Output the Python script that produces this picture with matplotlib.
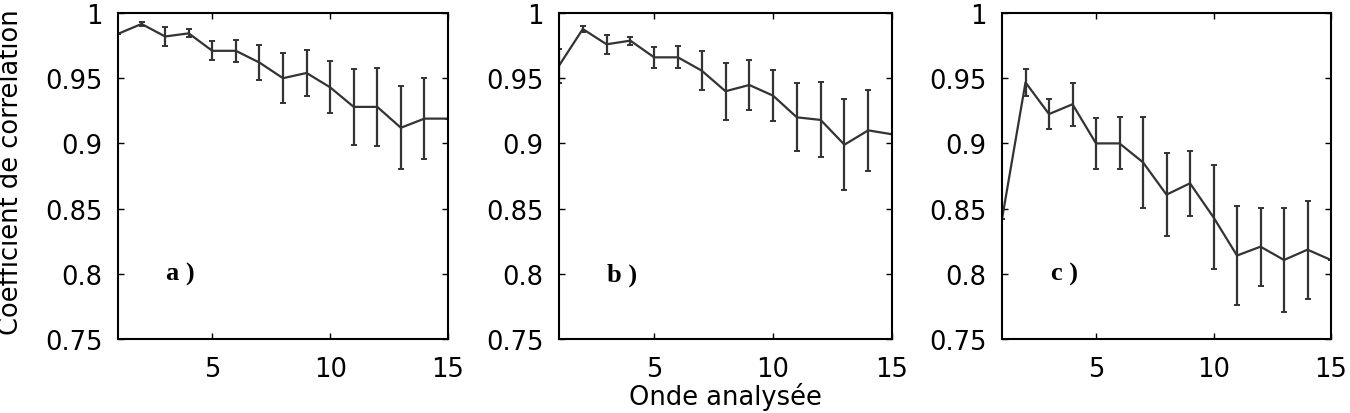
#!/usr/bin/env python3
"""Correlation coefficient vs analysed wave, three panels with error bars -> out.png"""
import matplotlib; matplotlib.use("Agg"); import matplotlib.pyplot as plt

waves = list(range(1, 16))

corr_a = [0.984, 0.9916, 0.982, 0.9844, 0.971, 0.971, 0.962, 0.950, 0.954, 0.943,
          0.928, 0.928, 0.912, 0.919, 0.919]
err_a = [0.0, 0.0015, 0.007, 0.003, 0.0073, 0.0085, 0.0134, 0.019, 0.0176, 0.020,
         0.029, 0.030, 0.032, 0.031, 0.0]

corr_b = [0.9596, 0.9877, 0.976, 0.9788, 0.966, 0.966, 0.9558, 0.940, 0.9448, 0.9366,
          0.920, 0.918, 0.899, 0.910, 0.907]
err_b = [0.013, 0.002, 0.0073, 0.003, 0.008, 0.0085, 0.015, 0.022, 0.019, 0.0195,
         0.026, 0.0288, 0.035, 0.031, 0.0]

corr_c = [0.842, 0.9468, 0.9225, 0.930, 0.900, 0.900, 0.8855, 0.8607, 0.8694, 0.8433,
          0.814, 0.8208, 0.8106, 0.8185, 0.8106]
err_c = [0.0, 0.0105, 0.0118, 0.0166, 0.0193, 0.020, 0.035, 0.032, 0.025, 0.040,
         0.0377, 0.030, 0.040, 0.0377, 0.0]

panel_labels = ["a )", "b )", "c )"]
yticks = [0.75, 0.8, 0.85, 0.9, 0.95, 1.0]
ytick_labels = ["0.75", "0.8", "0.85", "0.9", "0.95", "1"]
xticks = [5, 10, 15]

plt.rcParams["font.family"] = ["DejaVu Sans"]
LINE = "#333333"


def main():
    fig = plt.figure(figsize=(13.5, 4.14), dpi=100)
    lefts = [118 / 1350, 559 / 1350, 1002 / 1350]
    widths = [330 / 1350, 333 / 1350, 329 / 1350]
    series = [(corr_a, err_a), (corr_b, err_b), (corr_c, err_c)]
    for left, w, (vals, errs), lab in zip(lefts, widths, series, panel_labels):
        ax = fig.add_axes([left, 74 / 414, w, 326 / 414])
        ax.errorbar(waves, vals, yerr=errs, color=LINE, lw=1.6, elinewidth=1.6,
                    capsize=2.5, capthick=1.4)
        ax.set_xlim(1, 15); ax.set_ylim(0.75, 1.0)
        ax.set_xticks(xticks); ax.set_xticklabels([str(t) for t in xticks])
        ax.set_yticks(yticks); ax.set_yticklabels(ytick_labels)
        ax.tick_params(direction="in", top=True, right=True, length=4, width=1,
                       labelsize=18.5)
        ax.tick_params(axis="x", pad=12)
        ax.tick_params(axis="y", pad=11)
        for s in ax.spines.values():
            s.set_linewidth(1.5); s.set_color("black")
        ax.text(3.65, 0.80, lab, ha="center", va="center", fontsize=19,
                fontweight="bold", family="Liberation Serif")
    fig.text(11 / 1350, 1 - 172 / 414, "Coefficient de corrélation", rotation=90,
             ha="center", va="center", fontsize=18.5)
    fig.text(725 / 1350, 3 / 414, "Onde analysée", ha="center", va="bottom", fontsize=18.5)
    fig.savefig("out.png", dpi=100)


if __name__ == "__main__":
    main()
